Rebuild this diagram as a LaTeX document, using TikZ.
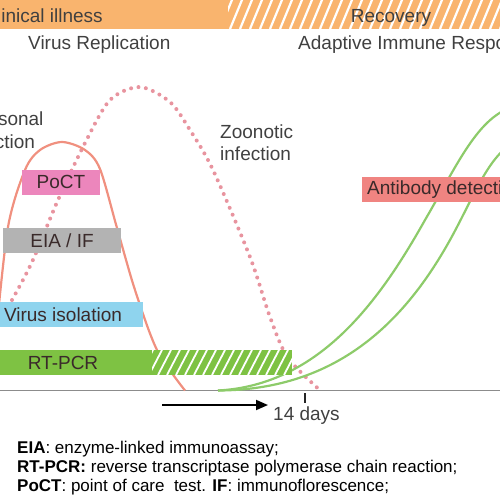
\documentclass[tikz,border=0pt]{standalone}
\usepackage{fontspec}
\setmainfont{Liberation Sans}
\usetikzlibrary{arrows.meta}
\definecolor{barorange}{HTML}{F9B46E}
\definecolor{seasred}{HTML}{F0907F}
\definecolor{zoonpink}{HTML}{E8949F}
\definecolor{poctpink}{HTML}{EC86BC}
\definecolor{eiagray}{HTML}{B3B3B3}
\definecolor{isoblue}{HTML}{8FD4EE}
\definecolor{pcrgreen}{HTML}{7EC243}
\definecolor{abred}{HTML}{F08481}
\definecolor{abgreen}{HTML}{8DCB6A}
\definecolor{axisgray}{HTML}{8C8C8C}
\definecolor{txtgray}{HTML}{404040}
\definecolor{boxtxt}{HTML}{3A2A2A}
\tikzset{
  lbl/.style={font=\fontsize{19}{23}\selectfont, text=txtgray, inner sep=0pt},
  testbox/.style={font=\fontsize{19}{23}\selectfont, text=boxtxt, inner sep=0pt, minimum height=25pt},
  leg/.style={font=\fontsize{17}{20}\selectfont, text=black, inner sep=0pt},
}
\begin{document}
\begin{tikzpicture}[x=1pt,y=-1pt]
\useasboundingbox (0,0) rectangle (500,500);
\clip (0,0) rectangle (500,500);
\coordinate (axL) at (0,390.5);
\coordinate (axR) at (500,390.5);
\coordinate (tickT) at (305,393);
\coordinate (tickB) at (305,403);
\coordinate (arrS) at (162,405);
\coordinate (arrE) at (268,405);
\coordinate (abS) at (218,390.5);

\fill[barorange] (-5,-5) rectangle (228,29);
\fill[barorange] (228,-5) rectangle (505,29);
\begin{scope}
\clip (228,-5) rectangle (505,29);
\foreach \x in {210,220,...,520}
  \draw[white,line width=2.2] (\x,29) -- ++(14,-34);
\end{scope}
\node[lbl,anchor=base east] (clin) at (103,22.5) {Clinical illness};
\node[lbl,anchor=base] (reco) at (391,22.5) {Recovery};
\node[lbl,anchor=base west] (vrep) at (28,50) {Virus Replication};
\node[lbl,anchor=base west] (adap) at (298,50) {Adaptive Immune Response};

\node[lbl,anchor=base west] (seas) at (-36,125) {Seasonal};
\node[lbl,anchor=base west] (seasinf) at (-36,148) {infection};
\node[lbl,anchor=base west] (zoon) at (220,138) {Zoonotic};
\node[lbl,anchor=base west] (zooninf) at (220,160) {infection};

\draw[axisgray,line width=1.4] (axL) -- (axR);

\draw[zoonpink,line width=4,dash pattern=on 0pt off 7.5pt,line cap=round]
  plot[smooth] coordinates {(12,300) (32,262) (58,200) (85,143) (110,100) (140,87) (170,102) (190,130) (213,170) (250,257) (270,317) (288,358) (322,392)};
\draw[seasred,line width=2.2]
  plot[smooth] coordinates {(-4,335) (8,227) (25,170) (40,150) (62,142) (85,150) (100,169) (117,228) (135,290) (157,350) (185,390.5)};
\draw[abgreen,line width=2.2] (abS) .. controls (320,385) and (380,300) .. (425,220)
  .. controls (460,160) and (480,112) .. (520,105);
\draw[abgreen,line width=2.2] (abS) .. controls (330,390) and (400,330) .. (450,240)
  .. controls (475,195) and (490,150) .. (520,140);

\node[testbox,fill=poctpink,minimum width=78pt] (poct) at (61,182) {PoCT};
\node[testbox,fill=eiagray,minimum width=118pt] (eia) at (62,240.5) {EIA / IF};
\node[testbox,fill=isoblue,minimum width=160pt] (iso) at (63,314.5) {Virus isolation};
\node[testbox,fill=pcrgreen,minimum width=178pt] (pcr) at (63,362.5) {RT-PCR};
\fill[pcrgreen] (152,350) rectangle (292,375);
\begin{scope}
\clip (152,350) rectangle (292,375);
\foreach \x in {140,149,...,300}
  \draw[white,line width=1.8] (\x,375) -- ++(13,-25);
\end{scope}
\node[testbox,fill=abred,anchor=west,inner xsep=5pt] (abdet) at (362,189.5) {Antibody detection};

\draw[black!85,line width=1.5] (tickT) -- (tickB);
\draw[black,line width=1.8,-{Triangle[length=12pt,width=10pt]}] (arrS) -- (arrE);
\node[lbl,anchor=base west] (days) at (273,420) {14 days};

\node[leg,anchor=base west] (legeia) at (17,453) {\textbf{EIA}: enzyme-linked immunoassay;};
\node[leg,anchor=base west] (legpcr) at (17,472) {\textbf{RT-PCR:} reverse transcriptase polymerase chain reaction;};
\node[leg,anchor=base west] (legpoct) at (17,491) {\textbf{PoCT}: point of care\ \ test. \textbf{IF}: immunoflorescence;};
\end{tikzpicture}
\end{document}
